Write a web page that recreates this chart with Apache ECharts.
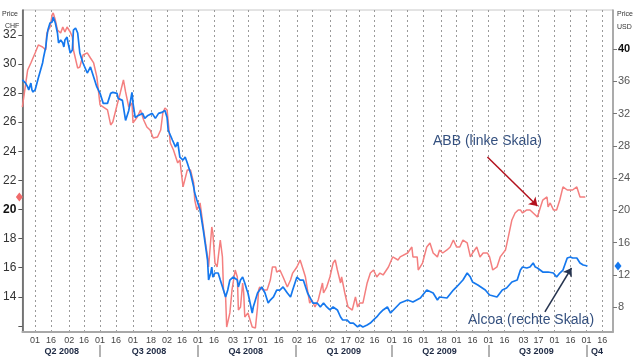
<!DOCTYPE html>
<html><head><meta charset="utf-8">
<script src="https://cdn.jsdelivr.net/npm/echarts@6/dist/echarts.min.js"></script>
<style>html,body{margin:0;padding:0;background:#fff}#c{width:640px;height:358px}</style>
</head><body><div id="c"></div>
<script>
// x axis: calendar days from START (index 0) to END
const START = '2008-04-19', DAYS = 556;
const dayLabelDates = ['2008-05-01','2008-05-16','2008-06-02','2008-06-16','2008-07-01','2008-07-16','2008-08-01','2008-08-18','2008-09-02','2008-09-16','2008-10-01','2008-10-16','2008-11-03','2008-11-17','2008-12-01','2008-12-16','2009-01-02','2009-01-16','2009-02-02','2009-02-17','2009-03-02','2009-03-16','2009-04-01','2009-04-16','2009-05-01','2009-05-18','2009-06-01','2009-06-16','2009-07-01','2009-07-16','2009-08-03','2009-08-17','2009-09-01','2009-09-16','2009-10-01','2009-10-16'];
const quarterBoundaryDates = ['2008-07-01','2008-10-01','2009-01-01','2009-04-01','2009-07-01','2009-10-01'];
const quarterLabelDates = ['2008-05-26','2008-08-16','2008-11-15','2009-02-15','2009-05-16','2009-08-15','2009-10-11'];
const quarterLabels = ['Q2 2008','Q3 2008','Q4 2008','Q1 2009','Q2 2009','Q3 2009','Q4'];
const leftTicks = [12,14,16,18,20,22,24,26,28,30,32];
const leftLabels = [14,16,18,20,22,24,26,28,30,32];
const rightTicks = [8,12,16,20,24,28,32,36,40];

// ABB (CHF, left scale): day index, price
const abbDay = [0,5,8,12,15,19,22,23,26,28,29,31,33,36,38,40,42,45,47,48,52,54,57,61,64,67,70,73,80,83,85,89,92,95,97,100,103,104,108,111,114,117,120,123,127,130,132,134,136,139,142,146,148,151,155,158,161,162,164,167,170,174,175,178,179,181,183,186,188,189,191,192,193,195,197,200,202,203,205,207,208,209,212,214,216,219,221,222,223,226,230,233,235,238,239,242,245,249,252,254,258,261,264,266,269,270,272,275,278,282,283,286,289,292,294,296,299,300,303,306,310,313,315,317,320,324,327,330,333,336,339,344,348,353,355,362,366,367,371,372,376,380,383,386,390,392,395,399,402,405,408,411,414,418,421,423,427,430,433,437,439,442,446,449,454,456,460,463,466,468,470,474,477,480,484,486,489,493,494,496,499,502,505,508,512,515,517,521,524,529];
const abbVal = [27.04,29.59,30.07,30.76,31.31,31.17,30.96,32.13,32.54,33.37,33.51,33.02,32.34,32.13,32.54,32.20,32.54,32.20,31.86,30.96,29.72,29.79,30.62,30.76,30.41,30.07,29.11,27.19,26.84,25.81,26.01,27.18,28.01,28.90,28.08,27.04,27.32,25.95,26.36,26.84,26.15,25.67,25.46,24.91,24.98,25.46,26.63,26.98,26.84,24.57,24.09,23.20,23.40,21.55,22.71,22.71,21.82,20.65,19.97,20.45,18.80,16.74,16.05,18.80,18.39,16.32,16.05,17.90,16.74,14.47,13.99,11.92,11.92,12.89,14.47,15.84,15.36,13.09,13.30,14.95,14.26,12.61,12.89,12.41,11.92,11.86,13.30,14.47,14.67,14.47,14.47,15.15,16.05,16.05,15.70,15.84,15.36,14.67,15.15,15.63,16.05,16.53,15.84,15.36,13.99,13.57,13.78,13.30,13.78,14.95,14.26,14.67,15.36,16.32,16.53,15.84,14.95,15.36,14.26,13.30,13.09,13.99,13.30,13.57,13.57,14.95,15.63,15.84,15.36,15.63,15.50,16.05,16.74,16.53,16.74,17.01,17.42,16.74,16.74,15.84,16.32,17.42,17.70,17.01,16.74,17.22,17.01,17.22,17.42,17.90,17.42,17.42,17.90,17.70,16.74,17.01,17.42,16.74,17.01,17.01,16.74,15.84,16.05,16.74,17.22,17.90,19.28,19.76,19.97,19.97,19.76,19.97,19.97,19.76,19.48,19.97,20.65,20.86,20.17,20.45,19.97,19.97,20.65,21.55,21.34,21.34,21.34,21.55,20.86,20.86];

// Alcoa (USD, right scale): day index, price
const alcoaDay = [0,3,5,6,8,9,10,12,15,19,20,22,23,24,26,28,29,31,33,34,36,38,39,40,42,43,45,47,48,50,52,54,57,61,64,67,70,73,76,80,83,85,89,90,94,97,100,103,104,106,109,113,115,118,122,125,128,131,134,136,137,141,144,146,148,151,153,155,158,161,162,164,167,170,174,175,177,178,179,181,184,186,189,191,192,193,195,198,202,203,205,207,209,211,212,214,216,217,219,221,223,225,228,231,233,236,239,242,245,249,252,254,258,261,264,268,270,273,277,280,283,286,289,292,296,299,301,305,308,311,315,317,320,324,327,330,333,336,339,343,346,355,362,367,374,380,386,390,392,399,405,408,414,418,421,423,428,435,439,446,451,455,460,465,468,470,474,477,480,482,484,489,494,499,502,505,508,512,515,517,521,524,527,531];
const alcoaVal = [36.17,35.79,35.30,34.93,35.79,34.93,34.68,34.93,36.42,38.27,39.02,40.26,41.49,42.36,43.23,43.35,43.97,43.23,41.99,40.75,41.12,40.75,40.26,41.12,41.49,40.75,39.51,39.88,42.36,42.61,41.99,39.51,38.27,37.03,37.78,36.54,35.30,34.51,33.27,33.27,34.51,34.64,34.51,33.89,33.64,31.16,32.40,34.64,33.27,31.53,31.78,32.03,31.41,31.78,32.03,31.41,32.03,32.15,32.40,31.53,29.97,28.73,27.86,28.48,26.62,26.25,26.62,25.88,24.64,22.91,22.16,21.30,20.06,17.58,13.86,11.38,12.25,12.99,11.75,12.25,12.25,11.38,10.14,9.27,9.27,10.14,11.38,11.75,11.38,10.52,11.38,11.75,11.01,10.14,9.77,8.53,7.29,8.04,8.90,9.77,10.14,10.52,9.77,8.53,8.90,9.28,10.14,10.14,10.52,9.77,9.28,10.14,11.75,11.38,11.38,9.77,9.28,8.53,8.53,8.04,8.53,8.04,7.67,8.04,7.67,6.80,6.43,6.43,6.05,6.05,5.56,5.81,5.56,5.81,6.05,6.43,6.80,7.29,7.67,8.04,7.29,8.53,8.90,8.66,9.15,10.14,9.77,8.90,9.28,9.15,10.14,10.52,11.38,12.25,11.75,11.14,10.76,10.14,9.52,9.28,10.14,10.39,11.14,11.38,12.62,12.99,12.87,12.99,13.49,12.99,12.87,12.37,12.37,12.25,11.75,12.25,12.62,14.11,14.23,14.11,14.11,13.49,13.24,13.12];

// annotation arrows in data coordinates [dayIndex, value]
const abbArrow = [[437, 23.61], [484, 20.24]];
const alcoaArrow = [[491, 7.42], [516, 12.87]];

const dates = [];
{
  const t0 = Date.UTC(2008, 3, 19);
  for (let i = 0; i < DAYS; i++) {
    const d = new Date(t0 + i * 86400000);
    dates.push(d.getUTCFullYear() + '-' + String(d.getUTCMonth() + 1).padStart(2, '0') + '-' + String(d.getUTCDate()).padStart(2, '0'));
  }
}
const labelSet = new Set(dayLabelDates);
const qbSet = new Set(quarterBoundaryDates);
const qlMap = {}; quarterLabelDates.forEach((d, i) => qlMap[d] = quarterLabels[i]);

const FONT = 'Liberation Sans, Arial, sans-serif';
const chart = echarts.init(document.getElementById('c'), null, {renderer: 'canvas'});
const abbLast = abbVal[abbVal.length - 1];
const alcoaLast = alcoaVal[alcoaVal.length - 1];

chart.setOption({
  animation: false,
  backgroundColor: '#fff',
  grid: {left: 22, right: 27, top: 10, bottom: 26, show: true, borderColor: '#c8c8c8', borderWidth: 1},
  xAxis: [{
    type: 'category', data: dates, boundaryGap: false,
    axisLine: {lineStyle: {color: '#a8a8a8', width: 2}},
    axisTick: {show: false},
    axisLabel: {interval: (i, v) => labelSet.has(v), formatter: v => v.slice(8), fontSize: 9, color: '#444', margin: 4, fontFamily: FONT},
    splitLine: {show: true, interval: (i, v) => labelSet.has(v), lineStyle: {color: '#9a9a9a', type: [2, 3], width: 1}}
  }, {
    type: 'category', data: dates, boundaryGap: false, position: 'bottom', offset: 13,
    axisLine: {show: false},
    axisTick: {show: true, interval: (i, v) => qbSet.has(v), length: 12, lineStyle: {color: '#999', width: 1.5}},
    axisLabel: {interval: (i, v) => qlMap[v] !== undefined, formatter: v => qlMap[v] || '', fontSize: 9, fontWeight: 'bold', color: '#1e2a44', margin: 2, fontFamily: FONT},
    splitLine: {show: false}
  }],
  yAxis: [{
    type: 'value', position: 'left', min: 11.58, max: 33.71, minInterval: 2, maxInterval: 2,
    axisLine: {show: true, lineStyle: {color: '#555', width: 1.5}},
    axisTick: {show: true, length: 4, customValues: leftTicks, lineStyle: {color: '#555'}},
    axisLabel: {customValues: leftLabels, margin: 6, fontSize: 12, color: '#333', fontFamily: FONT,
      formatter: v => v === 20 ? '{b|20}' : String(v),
      rich: {b: {fontWeight: 'bold', fontSize: 12, color: '#111', fontFamily: FONT}}},
    splitLine: {show: false}
  }, {
    type: 'value', position: 'right', min: 4.94, max: 44.84, minInterval: 4, maxInterval: 4,
    axisLine: {show: true, lineStyle: {color: '#999', width: 1.5}},
    axisTick: {show: true, length: 4, customValues: rightTicks, lineStyle: {color: '#777'}},
    axisLabel: {customValues: rightTicks, margin: 5, fontSize: 11, color: '#555', fontFamily: FONT,
      formatter: v => v === 40 ? '{b|40}' : String(v),
      rich: {b: {fontWeight: 'bold', fontSize: 11, color: '#111', fontFamily: FONT}}},
    splitLine: {show: false}
  }],
  series: [{
    name: 'ABB', type: 'line', xAxisIndex: 0, yAxisIndex: 0, showSymbol: false, symbol: 'none',
    data: abbDay.map((d, i) => [d, abbVal[i]]),
    lineStyle: {color: '#f47f7f', width: 1.5},
    markPoint: {silent: true, label: {show: false}, data: [{coord: [0, abbLast], symbol: 'diamond', symbolSize: [7, 9], symbolOffset: [-3, 0], itemStyle: {color: '#f06b6b'}}]},
    markLine: {silent: true, symbol: ['none', 'arrow'], symbolSize: 8, label: {show: false},
      lineStyle: {color: '#b3121e', width: 1.5, type: 'solid'},
      data: [[{coord: abbArrow[0]}, {coord: abbArrow[1]}]]}
  }, {
    name: 'Alcoa', type: 'line', xAxisIndex: 0, yAxisIndex: 1, showSymbol: false, symbol: 'none',
    data: alcoaDay.map((d, i) => [d, alcoaVal[i]]),
    lineStyle: {color: '#1578ee', width: 1.7},
    markPoint: {silent: true, label: {show: false}, data: [{coord: [DAYS - 1, alcoaLast], symbol: 'diamond', symbolSize: [7, 9], symbolOffset: [5, 0], itemStyle: {color: '#1578ee'}}]},
    markLine: {silent: true, symbol: ['none', 'arrow'], symbolSize: 8, label: {show: false},
      lineStyle: {color: '#26344f', width: 1.5, type: 'solid'},
      data: [[{coord: alcoaArrow[0]}, {coord: alcoaArrow[1]}]]}
  }],
  graphic: [
    {type: 'text', left: 2, top: 11, style: {text: 'Price', font: '7px ' + FONT, fill: '#333'}},
    {type: 'text', left: 5, top: 23, style: {text: 'CHF', font: '7px ' + FONT, fill: '#333'}},
    {type: 'text', left: 617, top: 11, style: {text: 'Price', font: '7px ' + FONT, fill: '#333'}},
    {type: 'text', left: 617, top: 24, style: {text: 'USD', font: '7px ' + FONT, fill: '#333'}},
    {type: 'text', left: 433, top: 134, style: {text: 'ABB (linke Skala)', font: '14px ' + FONT, fill: '#34507f'}},
    {type: 'text', left: 468, top: 313, style: {text: 'Alcoa (rechte Skala)', font: '14px ' + FONT, fill: '#34507f'}}
  ]
});
</script></body></html>
